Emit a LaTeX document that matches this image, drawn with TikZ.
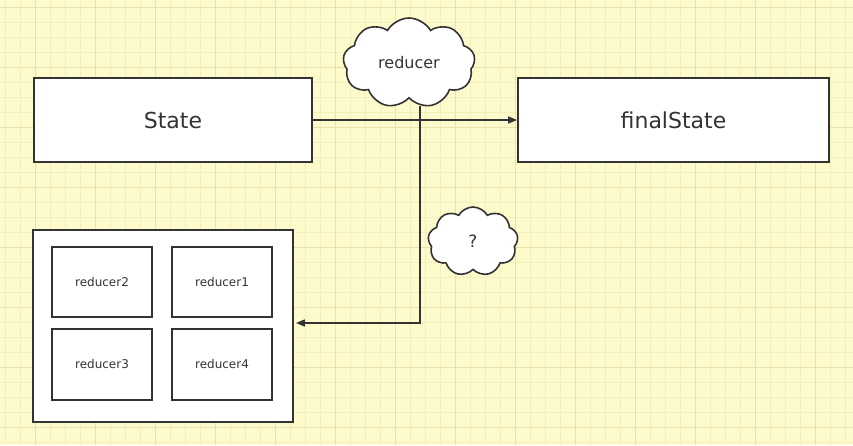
\documentclass[tikz,border=0pt]{standalone}
\usepackage{fontspec}
\setmainfont{DejaVu Sans}
\usetikzlibrary{shapes.symbols,arrows.meta}
\definecolor{paper}{HTML}{FDFBCC}
\definecolor{gridminor}{HTML}{F2EEBE}
\definecolor{gridmajor}{HTML}{E8E2AC}
\definecolor{ink}{HTML}{333333}
\tikzset{
  box/.style={draw=ink, line width=1.8pt, fill=white, inner sep=0pt, text=ink},
  puff/.style={cloud, cloud puffs=9, cloud puff arc=120, draw=ink, line width=1.6pt, fill=white, inner sep=0pt, aspect=1.4, text=ink},
  conn/.style={draw=ink, line width=1.6pt},
  tip/.style={-{Triangle[length=9pt,width=7pt]}}
}
\begin{document}
\begin{tikzpicture}[x=1pt,y=-1pt]
\fill[paper] (0,0) rectangle (853,445);
\useasboundingbox (0,0) rectangle (853,445);
\foreach \i in {0,...,57} {\draw[gridminor, line width=0.8pt] (5+15*\i,0) -- (5+15*\i,445);}
\foreach \j in {0,...,29} {\draw[gridminor, line width=0.8pt] (0,7.5+15*\j) -- (853,7.5+15*\j);}
\foreach \i in {0,...,14} {\draw[gridmajor, line width=0.9pt] (35+60*\i,0) -- (35+60*\i,445);}
\foreach \j in {0,...,7} {\draw[gridmajor, line width=0.9pt] (0,7.5+60*\j) -- (853,7.5+60*\j);}

\node[box, minimum width=278pt, minimum height=84pt, font=\fontsize{22}{25}\selectfont] (state) at (173,120) {State};
\node[box, minimum width=311pt, minimum height=84pt, font=\fontsize{22}{25}\selectfont] (final) at (673.5,120) {finalState};
\node[puff, minimum width=132pt, minimum height=90pt, font=\fontsize{16}{18}\selectfont] (rc) at (409,63) {reducer};
\node[puff, minimum width=90pt, minimum height=69pt, font=\fontsize{17}{20}\selectfont] (qc) at (473,241.5) {?};

\node[box, minimum width=260pt, minimum height=192pt] (big) at (163,326) {};
\node[box, minimum width=100pt, minimum height=70pt, font=\fontsize{12}{14}\selectfont] (r2) at (102,282) {reducer2};
\node[box, minimum width=100pt, minimum height=70pt, font=\fontsize{12}{14}\selectfont] (r1) at (222,282) {reducer1};
\node[box, minimum width=100pt, minimum height=71pt, font=\fontsize{12}{14}\selectfont] (r3) at (102,364.5) {reducer3};
\node[box, minimum width=100pt, minimum height=71pt, font=\fontsize{12}{14}\selectfont] (r4) at (222,364.5) {reducer4};

\draw[conn, tip] (state.east) -- (final.west);
\coordinate (drop) at (420,106);
\coordinate (corner) at (420,323);
\draw[conn, tip] (drop) -- (corner) -- ([xshift=2pt]big.east |- corner);
\end{tikzpicture}
\end{document}
